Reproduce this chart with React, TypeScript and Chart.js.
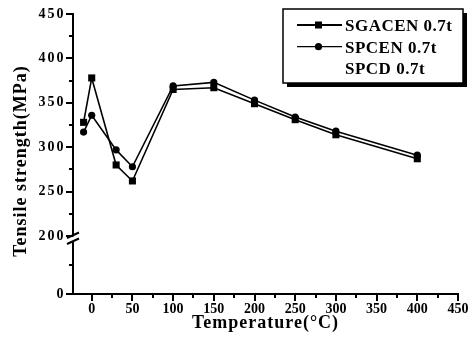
import React, { useEffect, useRef } from 'react';
import { Chart, registerables, LinearScale } from 'chart.js';

// ---- data ----
const temperatures = [-10, 0, 30, 50, 100, 150, 200, 250, 300, 400];
const sgacen = [328, 378, 280, 262, 365, 367, 349, 331, 314, 287];
const spcen = [317, 336, 297, 278, 369, 373, 353, 334, 318, 291];
const spcd: number[] = [];
const seriesLabels = ['SGACEN 0.7t', 'SPCEN 0.7t', 'SPCD 0.7t'];
const xTicks = [0, 25, 50, 75, 100, 125, 150, 175, 200, 225, 250, 275, 300, 325, 350, 375, 400, 425, 450];
const xTickLabels = [0, 50, 100, 150, 200, 250, 300, 350, 400, 450];
const yTicks = [0, 100, 200, 225, 250, 275, 300, 325, 350, 375, 400, 425, 450];
const yTickLabels = [0, 200, 250, 300, 350, 400, 450];
const xTitle = 'Temperature(°C)';
const yTitle = 'Tensile strength(MPa)';

const BREAK_VALUE = 200;
const LOW_SPAN = 65.3; // display units given to 0..200 segment
const X_MIN = -23;
const X_MAX = 450;
const Y_MIN = 0;
const Y_MAX = 450;

const SERIF = '"Liberation Serif", "Times New Roman", serif';

class BrokenLinearScale extends LinearScale {
  static id = 'brokenLinear';
  static defaults = {};
  toDisplay(v: number) {
    return v <= BREAK_VALUE ? (v * LOW_SPAN) / BREAK_VALUE : LOW_SPAN + (v - BREAK_VALUE);
  }
  fromDisplay(d: number) {
    return d <= LOW_SPAN ? (d * BREAK_VALUE) / LOW_SPAN : BREAK_VALUE + (d - LOW_SPAN);
  }
  getPixelForValue(value: number) {
    const total = this.toDisplay((this as any).max);
    return (this as any).getPixelForDecimal(this.toDisplay(value) / total);
  }
  getValueForPixel(pixel: number) {
    const total = this.toDisplay((this as any).max);
    return this.fromDisplay((this as any).getDecimalForPixel(pixel) * total);
  }
  drawLabels(area: any) {
    const ctx = (this as any).ctx;
    ctx.save();
    ctx.letterSpacing = '2px';
    (LinearScale.prototype as any).drawLabels.call(this, area);
    ctx.restore();
  }
}

Chart.register(...registerables, BrokenLinearScale as any);

const decorPlugin = {
  id: 'decor',
  afterDraw(chart: any) {
    const { ctx, chartArea, scales } = chart;
    const xs = scales.x;
    const ys = scales.y;
    const L = chartArea.left;
    const B = chartArea.bottom;
    ctx.save();
    ctx.strokeStyle = '#000';
    ctx.fillStyle = '#000';
    // y ticks
    yTicks.forEach((v) => {
      const py = Math.round(ys.getPixelForValue(v));
      const len = yTickLabels.includes(v) ? 6 : 3;
      ctx.fillRect(L - 1 - len, py - 1, len + 1, 2);
    });
    // x ticks
    xTicks.forEach((v) => {
      const px = Math.round(xs.getPixelForValue(v));
      const len = xTickLabels.includes(v) ? 6 : 3;
      ctx.fillRect(px - 1, B, 2, len + 1);
    });
    // axis break marker
    const by = ys.getPixelForValue(BREAK_VALUE) + 3;
    ctx.fillStyle = '#fff';
    ctx.beginPath();
    ctx.moveTo(L - 6, by + 0.5);
    ctx.lineTo(L + 6, by - 5);
    ctx.lineTo(L + 6, by - 1);
    ctx.lineTo(L - 6, by + 4.5);
    ctx.closePath();
    ctx.fill();
    ctx.lineWidth = 2;
    ctx.beginPath();
    ctx.moveTo(L - 6, by - 1);
    ctx.lineTo(L + 6, by - 6.5);
    ctx.moveTo(L - 6, by + 5);
    ctx.lineTo(L + 6, by - 0.5);
    ctx.stroke();

    // axis titles
    ctx.fillStyle = '#000';
    ctx.font = `bold 18px ${SERIF}`;
    ctx.letterSpacing = '1px';
    ctx.textAlign = 'center';
    ctx.textBaseline = 'alphabetic';
    ctx.fillText(xTitle, (chartArea.left + chartArea.right) / 2, 328);
    ctx.save();
    ctx.translate(25.5, 161);
    ctx.rotate(-Math.PI / 2);
    ctx.fillText(yTitle, 0, 0);
    ctx.restore();

    // legend box
    const bx = 283, bt = 9, bw = 180, bh = 74;
    ctx.fillStyle = '#000';
    ctx.fillRect(bx + 4, bt + 4, bw, bh);
    ctx.fillStyle = '#fff';
    ctx.fillRect(bx, bt, bw, bh);
    ctx.lineWidth = 1.5;
    ctx.strokeStyle = '#000';
    ctx.strokeRect(bx, bt, bw, bh);

    const rows = [25, 46.7, 68.3];
    chart.data.datasets.forEach((ds: any, i: number) => {
      const ry = rows[i];
      if (ds.data.length) {
        ctx.strokeStyle = '#000';
        ctx.lineWidth = i === 0 ? 2 : 1.3;
        ctx.beginPath();
        ctx.moveTo(297, ry);
        ctx.lineTo(342, ry);
        ctx.stroke();
        ctx.fillStyle = '#000';
        if (ds.pointStyle === 'rect') {
          ctx.fillRect(315, ry - 3.5, 7, 7);
        } else {
          ctx.beginPath();
          ctx.arc(318.5, ry, 3.6, 0, Math.PI * 2);
          ctx.fill();
        }
      }
      ctx.fillStyle = '#000';
      ctx.font = `bold 17px ${SERIF}`;
      ctx.letterSpacing = '0.5px';
      ctx.textAlign = 'left';
      ctx.textBaseline = 'alphabetic';
      ctx.fillText(ds.label, 345, ry + 6);
    });
    ctx.restore();
  },
};

export default function App() {
  const ref = useRef<HTMLCanvasElement>(null);
  useEffect(() => {
    if (!ref.current) return;
    const chart = new Chart(ref.current, {
      type: 'line',
      data: {
        datasets: [
          {
            label: seriesLabels[0],
            data: temperatures.map((t, i) => ({ x: t, y: sgacen[i] })),
            borderColor: '#000',
            backgroundColor: '#000',
            borderWidth: 1.6,
            pointStyle: 'rect',
            pointRadius: 5,
            pointBorderWidth: 0,
            tension: 0,
          },
          {
            label: seriesLabels[1],
            data: temperatures.map((t, i) => ({ x: t, y: spcen[i] })),
            borderColor: '#000',
            backgroundColor: '#000',
            borderWidth: 1.6,
            pointStyle: 'circle',
            pointRadius: 3.6,
            pointBorderWidth: 0,
            tension: 0,
          },
          {
            label: seriesLabels[2],
            data: spcd,
            borderColor: '#000',
            backgroundColor: '#000',
            pointRadius: 0,
            showLine: false,
          },
        ],
      },
      options: {
        animation: false,
        responsive: false,
        devicePixelRatio: 1,
        layout: { padding: { top: 14, right: 10, left: 0, bottom: 0 } },
        plugins: { legend: { display: false }, tooltip: { enabled: false } },
        scales: {
          x: {
            type: 'linear',
            min: X_MIN,
            max: X_MAX,
            grid: { display: false, drawTicks: false },
            border: { display: true, color: '#000', width: 2 },
            afterBuildTicks: (s: any) => {
              s.ticks = xTickLabels.map((v) => ({ value: v }));
            },
            ticks: {
              autoSkip: false,
              maxRotation: 0,
              padding: 7,
              color: '#000',
              font: { family: SERIF, size: 14, weight: 'bold' },
              callback: (v: any) => String(v),
            },
            afterFit: (s: any) => {
              s.height = 49;
              s.paddingLeft = 0;
              s.paddingRight = 0;
            },
          },
          y: {
            type: 'brokenLinear' as any,
            min: Y_MIN,
            max: Y_MAX,
            grid: { display: false, drawTicks: false },
            border: { display: true, color: '#000', width: 2 },
            afterBuildTicks: (s: any) => {
              s.ticks = yTickLabels.map((v) => ({ value: v }));
            },
            ticks: {
              autoSkip: false,
              padding: 7.5,
              color: '#000',
              font: { family: SERIF, size: 14, weight: 'bold' },
              callback: (v: any) => String(v),
            },
            afterFit: (s: any) => {
              s.width = 73;
              s.paddingTop = 0;
              s.paddingBottom = 0;
            },
          },
        },
      } as any,
      plugins: [decorPlugin],
    });
    return () => chart.destroy();
  }, []);
  return (
    <div style={{ position: 'absolute', left: 0, top: 0, width: 468, height: 343, background: '#fff' }}>
      <canvas ref={ref} width={468} height={343} style={{ display: 'block', width: 468, height: 343 }} />
    </div>
  );
}
